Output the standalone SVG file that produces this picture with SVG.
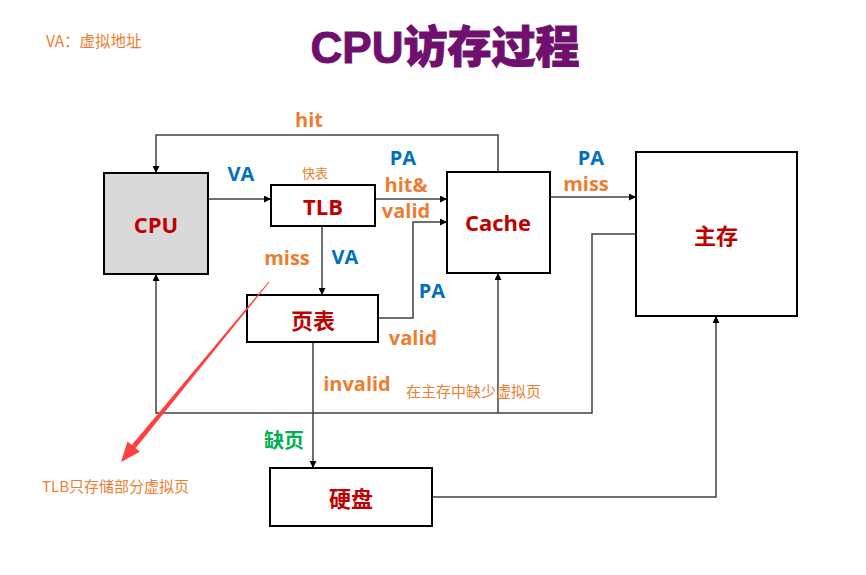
<svg xmlns="http://www.w3.org/2000/svg" width="866" height="575" viewBox="0 0 866 575">
<defs>
<marker id="arr" viewBox="0 0 10 10" refX="10" refY="5" markerWidth="7" markerHeight="7" markerUnits="userSpaceOnUse" orient="auto"><path d="M0,0 L10,5 L0,10 z" fill="#000"/></marker>
</defs>
<style>
.box{fill:#fff;stroke:#000;stroke-width:2}
.nl{font-family:"Open Sans","Noto Sans CJK SC",sans-serif;font-weight:bold;font-size:22px;fill:#c00000;text-anchor:middle;dominant-baseline:central}
.ca{fill:none;stroke:#404040;stroke-width:1.5;marker-end:url(#arr)}
.lb{font-family:"Open Sans","Noto Sans CJK SC",sans-serif;font-weight:bold;font-size:20px;text-anchor:middle;dominant-baseline:central}
.o{fill:#ed7d31}
.b{fill:#0070c0}
.g{fill:#00b050}
.note{font-family:"Noto Sans CJK SC","Noto Sans",sans-serif;font-size:15px;fill:#ed7d31;dominant-baseline:central}
</style>
<rect width="866" height="575" fill="#fff"/>
<text x="445" y="47" font-family="'Liberation Sans','Noto Sans CJK SC',sans-serif" font-weight="900" font-size="44" fill="#70106e" text-anchor="middle" dominant-baseline="central" stroke="#70106e" stroke-width="1">CPU访存过程</text>
<text class="note" x="46" y="40" style="font-size:15.5px">VA：虚拟地址</text>

<g id="connectors">
<path class="ca" d="M498,172 V135 H156 V173"/>
<path class="ca" d="M208,199 H271"/>
<path class="ca" d="M375,199 H447"/>
<path class="ca" d="M378,318 H413 V222 H447"/>
<path class="ca" d="M322,226 V295"/>
<path class="ca" d="M550,197 H636"/>
<path class="ca" d="M636,234 H592 V413 H156 V274"/>
<path class="ca" d="M498,413 V273"/>
<path class="ca" d="M313,342 V468"/>
<path class="ca" d="M432,497 H716 V316"/>
</g>

<g id="cpu"><rect class="box" x="104" y="173" width="104" height="101" style="fill:#d9d9d9"/><text class="nl" x="156" y="224">CPU</text></g>
<g id="tlb"><rect class="box" x="271" y="185" width="104" height="41"/><text class="nl" x="323" y="206">TLB</text></g>
<g id="cache"><rect class="box" x="447" y="172" width="103" height="101"/><text class="nl" x="498" y="222">Cache</text></g>
<g id="mainmem"><rect class="box" x="636" y="152" width="161" height="164"/><text class="nl" x="716" y="235">主存</text></g>
<g id="pagetable"><rect class="box" x="247" y="295" width="131" height="47"/><text class="nl" x="313" y="320">页表</text></g>
<g id="disk"><rect class="box" x="270" y="468" width="162" height="58"/><text class="nl" x="351" y="498">硬盘</text></g>

<g id="labels">
<text class="lb o" x="309" y="119">hit</text>
<text class="lb b" x="241" y="173">VA</text>
<text class="note" x="315" y="172" text-anchor="middle" style="font-size:13px">快表</text>
<text class="lb b" x="403" y="157">PA</text>
<text class="lb o" x="406" y="184">hit&amp;</text>
<text class="lb o" x="406" y="210">valid</text>
<text class="lb o" x="287" y="257">miss</text>
<text class="lb b" x="345" y="256">VA</text>
<text class="lb b" x="432" y="290">PA</text>
<text class="lb o" x="413" y="337">valid</text>
<text class="lb o" x="357" y="383">invalid</text>
<text class="note" x="406" y="390">在主存中缺少虚拟页</text>
<text class="lb g" x="284" y="440">缺页</text>
<text class="lb b" x="591" y="157">PA</text>
<text class="lb o" x="586" y="183">miss</text>
<text class="note" x="42" y="485">TLB只存储部分虚拟页</text>
</g>

<g id="red-arrow">
<polygon points="269.4,282.3 268.6,281.7 131.8,445.0 127.5,441.5 121,462 139.9,451.7 135.6,448.2" fill="#ff4040"/>
</g>
</svg>
